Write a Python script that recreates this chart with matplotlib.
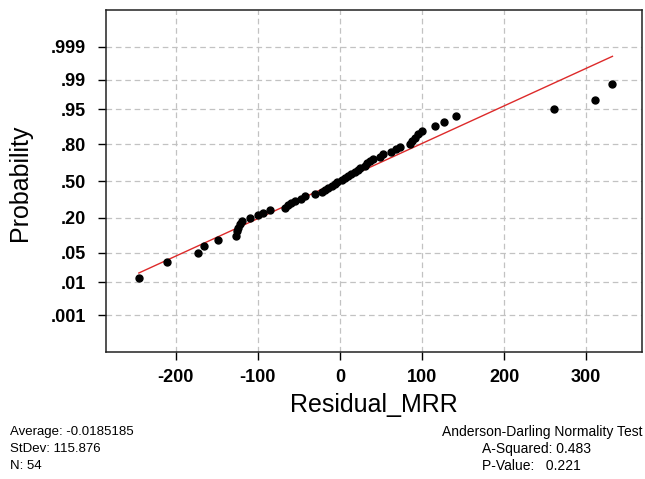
"""Normal probability plot of Residual_MRR"""

from statistics import NormalDist

import numpy as np
import matplotlib
matplotlib.use("Agg")
import matplotlib.pyplot as plt

plt.rcParams['font.family'] = ['Liberation Sans', 'DejaVu Sans']
plt.rcParams['axes.unicode_minus'] = False

# residuals, sorted
residuals = [-245, -211, -173, -166, -148, -127, -126, -124, -122, -119,
             -110, -100, -94, -85, -67, -63, -60, -55, -47, -43,
             -30, -22, -18, -15, -10, -6, -3,
             2, 6, 10, 14, 18, 22, 25, 30, 33, 37,
             40, 49, 52, 62, 68, 73, 85, 88, 91, 95,
             100, 116, 127, 141, 261, 311, 332]

# summary statistics shown under the chart
average = -0.0185185
stdev = 115.876
n_obs = 54
a_squared = 0.483
p_value = 0.221

prob_ticks = [.001, .01, .05, .20, .50, .80, .95, .99, .999]
prob_labels = ['.001', '.01', '.05', '.20', '.50', '.80', '.95', '.99', '.999']
x_ticks = [-200, -100, 0, 100, 200, 300]

nd = NormalDist()
x = np.array(sorted(residuals), dtype=float)
n = len(x)
# median ranks (Benard)
z = np.array([nd.inv_cdf((i - 0.3) / (n + 0.4)) for i in range(1, n + 1)])

# fitted normal line from the stated mean / stdev
xl = np.array([x.min(), x.max()])
zl = (xl - average) / stdev

fig = plt.figure(figsize=(6.45, 4.79), dpi=100)
ax = fig.add_axes([106 / 645, 1 - 352 / 479, (642 - 106) / 645, (352 - 10) / 479])

ax.plot(xl, zl, color='#dd2a2a', lw=1.0, zorder=2)
ax.plot(x, z, 'o', color='black', ms=5, zorder=3)

ax.set_xlim(-285, 368)
ax.set_ylim(-3.93, 3.93)
ax.set_yticks([nd.inv_cdf(p) for p in prob_ticks])
ax.set_yticklabels(prob_labels)
ax.set_xticks(x_ticks)

ax.grid(True, color='#c2c2c2', linestyle=(0, (4.5, 3)), linewidth=0.9)
ax.set_axisbelow(True)
ax.tick_params(direction='out', length=5.5, width=1, labelsize=13)
ax.tick_params(axis='x', pad=7)
ax.tick_params(axis='y', pad=9)
for lab in ax.get_xticklabels() + ax.get_yticklabels():
    lab.set_fontweight('bold')
for s in ax.spines.values():
    s.set_linewidth(1.1)
    s.set_color('#222222')

ax.set_xlabel('Residual_MRR', fontsize=18)
ax.xaxis.set_label_coords(0.5, -(405 - 352) / 342, transform=ax.transAxes)
ax.xaxis.label.set_va('center')
ax.set_ylabel('Probability', fontsize=18)
ax.yaxis.set_label_coords(-(106 - 20) / 536, (352 - 183) / 342, transform=ax.transAxes)
ax.yaxis.label.set_va('center')

fs = 10
fig.text(10 / 645, 1 - 432 / 479, f'Average: {average}', fontsize=fs - 0.5, va='center')
fig.text(10 / 645, 1 - 449 / 479, f'StDev: {stdev}', fontsize=fs - 0.5, va='center')
fig.text(10 / 645, 1 - 466 / 479, f'N: {n_obs}', fontsize=fs - 0.5, va='center')
fig.text(643 / 645, 1 - 432 / 479, 'Anderson-Darling Normality Test', fontsize=fs,
         va='center', ha='right')
fig.text(482 / 645, 1 - 449 / 479, f'A-Squared: {a_squared}', fontsize=fs, va='center')
fig.text(482 / 645, 1 - 466 / 479, f'P-Value:   {p_value}', fontsize=fs, va='center')

fig.savefig('out.png', dpi=100)
